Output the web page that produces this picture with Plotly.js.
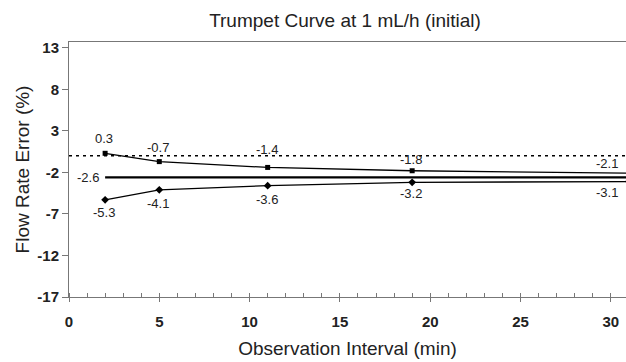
<!DOCTYPE html>
<html>
<head>
<meta charset="utf-8">
<script src="https://cdn.plot.ly/plotly-3.0.1.min.js"></script>
<style>html,body{margin:0;padding:0;background:#fff}#chart{width:626px;height:362px}</style>
</head>
<body>
<div id="chart"></div>
<script>
const intervals = [2, 5, 11, 19, 31];
const maxError = [0.3, -0.7, -1.4, -1.8, -2.1];
const minError = [-5.3, -4.1, -3.6, -3.2, -3.1];
const meanError = -2.6;
const xTickLabels = ['0', '5', '10', '15', '20', '25', '30'];
const yTickLabels = ['-17', '-12', '-7', '-2', '3', '8', '13'];
const titleText = 'Trumpet Curve at 1 mL/h (initial)';
const xTitle = 'Observation Interval (min)';
const yTitle = 'Flow Rate Error (%)';

// label pixel nudges (style only)
const maxLabelNudge = [15, 14, 18, 11, 10];
const minLabelNudge = [-13, -14, -14, -11, -11];

const FONT = 'Arial, Liberation Sans, sans-serif';
const TXT = '#222';
const xMax = 30.84;
const lastX = intervals[intervals.length - 1];

const traces = [
  {x: [0, lastX], y: [0, 0], mode: 'lines', line: {color: '#000', width: 1.5, dash: '3px,4px'}, hoverinfo: 'skip'},
  {x: [intervals[0], lastX], y: [meanError, meanError], mode: 'lines', line: {color: '#000', width: 2.2}},
  {x: intervals, y: maxError, mode: 'lines+markers', line: {color: '#000', width: 1.3},
   marker: {symbol: 'square', size: 5, color: '#000'}},
  {x: intervals, y: minError, mode: 'lines+markers', line: {color: '#000', width: 1.3},
   marker: {symbol: 'diamond', size: 6, color: '#000'}},
  {x: [0], y: [0], xaxis: 'x2', mode: 'markers', marker: {opacity: 0}, hoverinfo: 'skip'}
];

const annotations = [];
function addLabels(xs, ys, nudges) {
  xs.forEach((x, i) => {
    const outside = x > xMax;
    annotations.push({x: outside ? xMax : x, y: ys[i], text: ys[i].toFixed(1), showarrow: false,
      xanchor: outside ? 'right' : 'center', yanchor: 'middle', xshift: outside ? -6 : -1, yshift: nudges[i],
      font: {family: FONT, size: 13, color: TXT}});
  });
}
addLabels(intervals, maxError, maxLabelNudge);
addLabels(intervals, minError, minLabelNudge);
annotations.push({x: intervals[0], y: meanError, text: meanError.toFixed(1), showarrow: false,
  xanchor: 'right', yanchor: 'middle', xshift: -4, font: {family: FONT, size: 13, color: TXT}});

const bold = s => '<b>' + s + '</b>';

const layout = {
  width: 626, height: 362,
  margin: {l: 69, r: 0, t: 42, b: 65},
  paper_bgcolor: '#fff', plot_bgcolor: '#fff',
  showlegend: false,
  font: {family: FONT, color: TXT},
  title: {text: titleText, font: {family: FONT, size: 19, color: TXT}, x: 345 / 626, xref: 'container', xanchor: 'center',
          y: 1 - 20 / 362, yref: 'container', yanchor: 'middle'},
  xaxis: {
    range: [0, xMax], tickvals: xTickLabels.map(Number), ticktext: xTickLabels.map(bold),
    ticks: 'outside', ticklen: 4, tickcolor: '#777', tickwidth: 1, ticklabelstandoff: 7,
    showline: true, linecolor: '#777', linewidth: 1, mirror: true, showgrid: false, zeroline: false,
    tickfont: {family: FONT, size: 15, color: TXT},
    minor: {dtick: 1, tick0: 0, ticks: 'inside', ticklen: 4, tickcolor: '#777', showgrid: false},
    title: {text: xTitle, font: {family: FONT, size: 19, color: TXT}, standoff: 12}
  },
  xaxis2: {
    overlaying: 'x', matching: 'x', range: [0, xMax], tickvals: xTickLabels.map(Number), ticks: 'inside', ticklen: 4, tickcolor: '#777',
    showticklabels: false, showgrid: false, zeroline: false, showline: false, side: 'bottom'
  },
  yaxis: {
    range: [-17, 13.7], tickvals: yTickLabels.map(Number), ticktext: yTickLabels.map(bold),
    ticks: 'outside', ticklen: 6, tickcolor: '#777',
    showline: true, linecolor: '#777', linewidth: 1, showgrid: false, zeroline: false,
    tickfont: {family: FONT, size: 15, color: TXT},
    title: {text: yTitle, font: {family: FONT, size: 19, color: TXT}, standoff: 2}
  },
  annotations: annotations
};

Plotly.newPlot('chart', traces, layout, {displayModeBar: false, staticPlot: true});
</script>
</body>
</html>
